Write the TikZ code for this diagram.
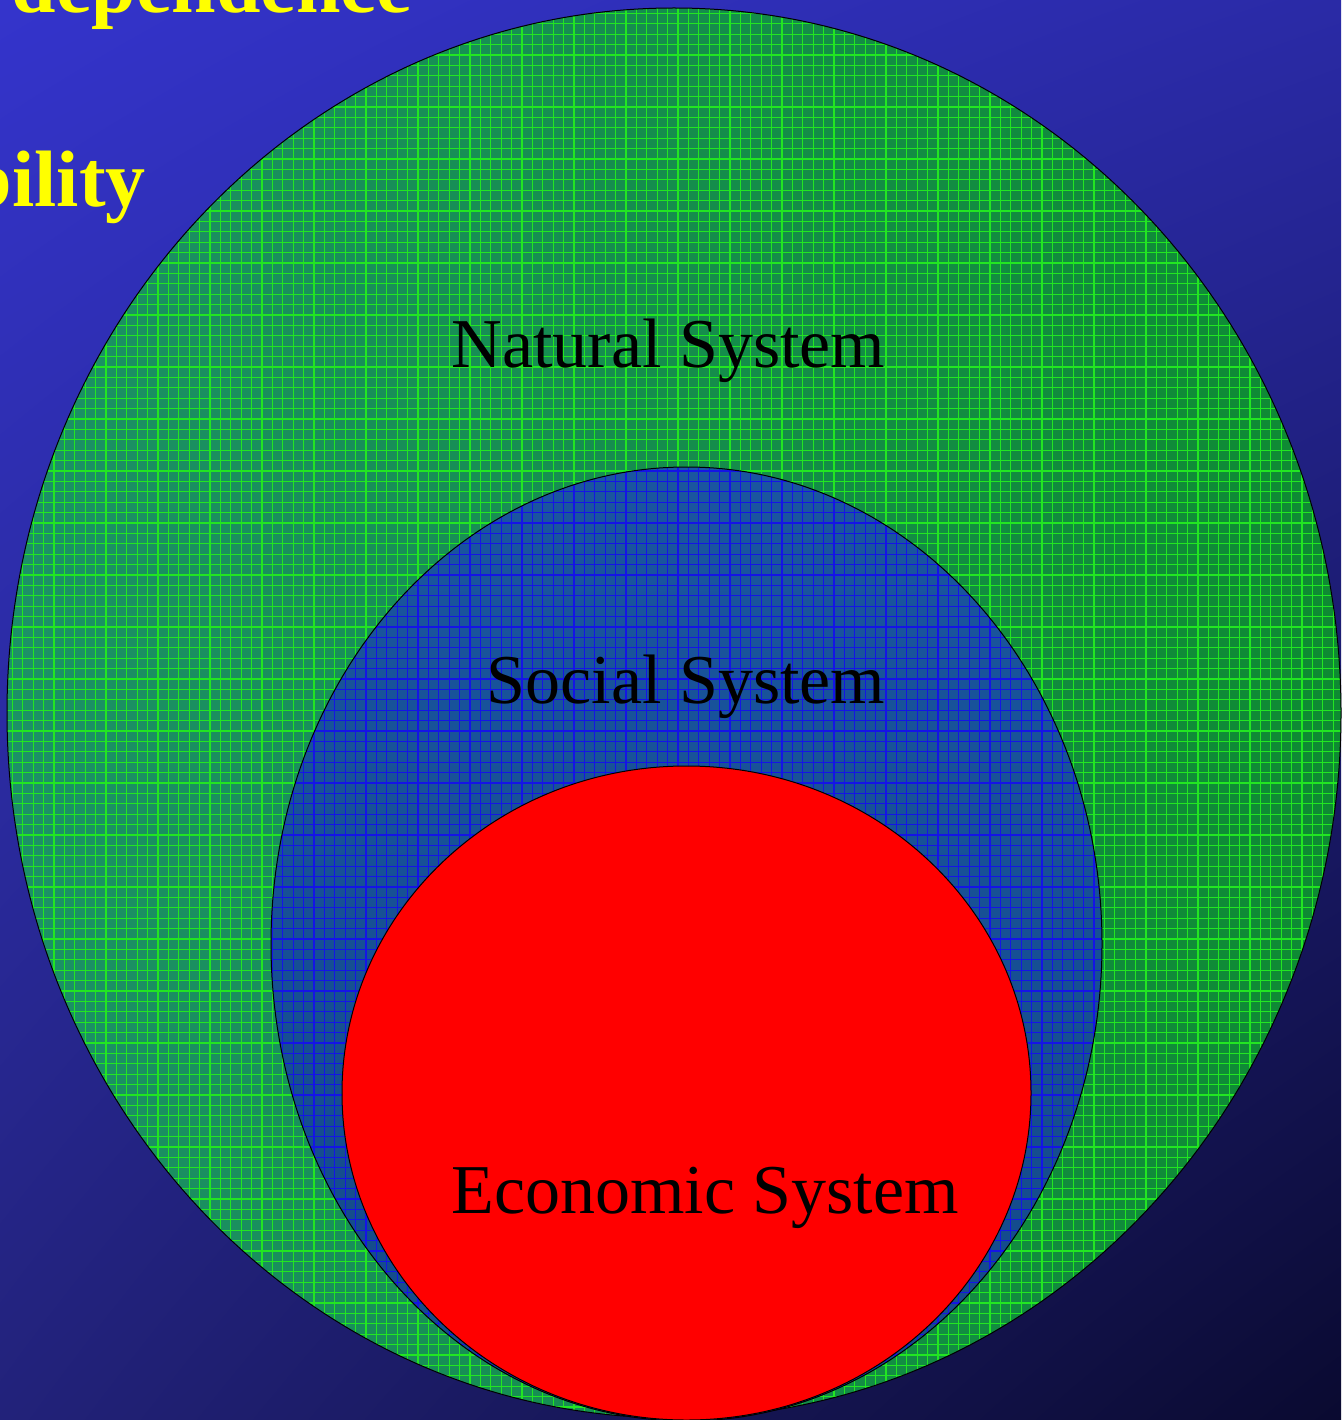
\documentclass[tikz,border=0pt]{standalone}
\usepackage{fontspec}
\setmainfont{Liberation Serif}
\usetikzlibrary{shadings}
\definecolor{bgUL}{HTML}{3434CC}
\definecolor{bgUR}{HTML}{2A2AA6}
\definecolor{bgLL}{HTML}{22227A}
\definecolor{bgLR}{HTML}{0A0A30}
\definecolor{grnA}{HTML}{1C9068}
\definecolor{grnB}{HTML}{0E8A32}
\definecolor{grnLine}{HTML}{22E622}
\definecolor{bluA}{HTML}{1A55A0}
\definecolor{bluB}{HTML}{134A88}
\definecolor{bluLine}{HTML}{1414E6}
\definecolor{ttlYellow}{HTML}{FFFF00}
\tikzset{
  outline/.style={draw=black, line width=1pt},
  gridline/.style={line width=1.1pt},
  label/.style={inner sep=0pt, anchor=base, font=\fontsize{70}{84}\selectfont},
  title/.style={inner sep=0pt, anchor=base east, text=ttlYellow, font=\fontsize{80}{96}\selectfont\bfseries}
}
\begin{document}
\begin{tikzpicture}[x=1pt,y=-1pt]
\useasboundingbox (0,0) rectangle (1341,1420);
% background
\shade[upper left=bgUL, upper right=bgUR, lower left=bgLL, lower right=bgLR] (0,0) rectangle (1341,1420);
% title fragments
\node[title] (t1) at (412,13) {dependence};
\node[title] (t2) at (146,207) {bility};
% natural system
\begin{scope}
  \clip (674,713) ellipse [x radius=667pt, y radius=705pt];
  \shade[left color=grnA, right color=grnB] (0,0) rectangle (1341,1420);
  \foreach \i in {0,...,130} \draw[gridline, grnLine] (\i*10.4+2,0) -- (\i*10.4+2,1420);
  \foreach \i in {0,...,137} \draw[gridline, grnLine] (0,\i*10.4+3) -- (1341,\i*10.4+3);
\end{scope}
\draw[outline] (674,713) ellipse [x radius=667pt, y radius=705pt];
% social system
\begin{scope}
  \clip (686.5,944) ellipse [x radius=415.5pt, y radius=477pt];
  \shade[top color=bluA, bottom color=bluB] (0,460) rectangle (1341,1420);
  \foreach \i in {0,...,130} \draw[gridline, bluLine] (\i*10.4+2,0) -- (\i*10.4+2,1420);
  \foreach \i in {0,...,137} \draw[gridline, bluLine] (0,\i*10.4+3) -- (1341,\i*10.4+3);
\end{scope}
\draw[outline] (686.5,944) ellipse [x radius=415.5pt, y radius=477pt];
% economic system
\draw[outline, fill=red] (686.5,1093) ellipse [x radius=344.5pt, y radius=327pt];
% labels
\node[label] (nat) at (668.5,367) {Natural System};
\node[label] (soc) at (686,703) {Social System};
\node[label] (eco) at (705,1213) {Economic System};
\end{tikzpicture}
\end{document}
